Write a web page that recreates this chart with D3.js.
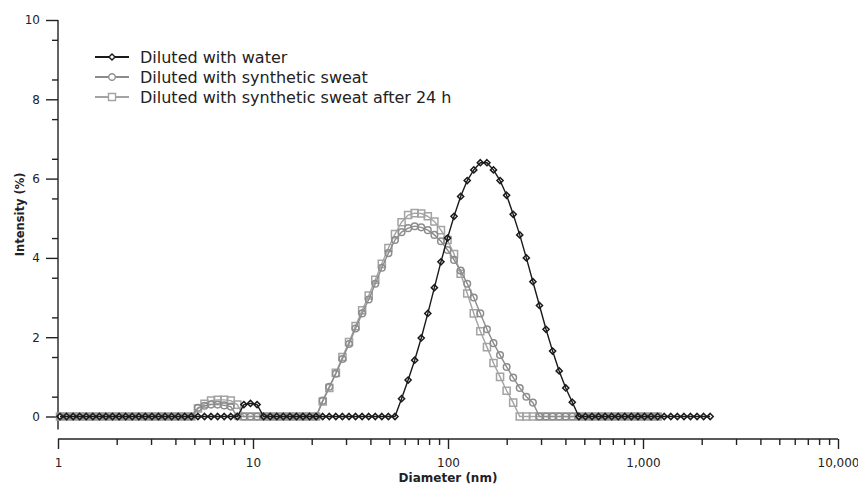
<!DOCTYPE html>
<html>
<head>
<meta charset="utf-8">
<script src="https://cdn.jsdelivr.net/npm/d3@7"></script>
<style>
	body { margin: 0; background: #fff; }
	text { font-family: "DejaVu Sans", Verdana, sans-serif; fill: #222; }
</style>
</head>
<body>
<svg class="chart"></svg>
<script>

// Size bins (nm), shared by the three measurements
var diameters = [
	1.024, 1.106, 1.196, 1.292, 1.396, 1.509, 1.631, 1.762, 1.904, 2.058,
	2.224, 2.403, 2.597, 2.806, 3.033, 3.277, 3.542, 3.827, 4.136, 4.469,
	4.830, 5.220, 5.641, 6.095, 6.587, 7.118, 7.692, 8.312, 8.982, 9.706,
	10.49, 11.34, 12.25, 13.24, 14.31, 15.46, 16.71, 18.05, 19.51, 21.08,
	22.78, 24.62, 26.60, 28.75, 31.07, 33.57, 36.28, 39.21, 42.37, 45.78,
	49.48, 53.47, 57.78, 62.44, 67.47, 72.91, 78.79, 85.15, 92.01, 99.43,
	107.4, 116.1, 125.5, 135.6, 146.5, 158.4, 171.1, 184.9, 199.8, 215.9,
	233.3, 252.2, 272.5, 294.5, 318.2, 343.9, 371.6, 401.6, 433.9, 468.9,
	506.7, 547.6, 591.8, 639.5, 691.0, 746.7, 806.9, 872.0, 942.3, 1018,
	1100, 1189, 1285, 1389, 1501, 1622, 1752, 1894, 2046, 2211
];

// Intensity (%) per bin
var water = [
	0, 0, 0, 0, 0, 0, 0, 0, 0, 0,
	0, 0, 0, 0, 0, 0, 0, 0, 0, 0,
	0, 0, 0, 0, 0, 0, 0, 0, 0.3, 0.33,
	0.3, 0, 0, 0, 0, 0, 0, 0, 0, 0,
	0, 0, 0, 0, 0, 0, 0, 0, 0, 0,
	0, 0, 0.45, 0.92, 1.42, 1.98, 2.6, 3.25, 3.9, 4.5,
	5.05, 5.55, 5.95, 6.22, 6.4, 6.4, 6.22, 5.95, 5.58, 5.1,
	4.58, 4.0, 3.4, 2.8, 2.2, 1.65, 1.15, 0.72, 0.36, 0,
	0, 0, 0, 0, 0, 0, 0, 0, 0, 0,
	0, 0, 0, 0, 0, 0, 0, 0, 0, 0
];

var sweat = [
	0, 0, 0, 0, 0, 0, 0, 0, 0, 0,
	0, 0, 0, 0, 0, 0, 0, 0, 0, 0,
	0, 0.22, 0.27, 0.3, 0.3, 0.28, 0.25, 0, 0, 0,
	0, 0, 0, 0, 0, 0, 0, 0, 0, 0,
	0.4, 0.75, 1.08, 1.45, 1.83, 2.22, 2.6, 2.95, 3.35, 3.75,
	4.12, 4.45, 4.65, 4.75, 4.8, 4.77, 4.7, 4.58, 4.42, 4.2,
	3.95, 3.68, 3.35, 3.0, 2.6, 2.2, 1.85, 1.55, 1.25, 0.98,
	0.72, 0.5, 0.35, 0, 0, 0, 0, 0, 0, 0,
	0, 0, 0, 0, 0, 0, 0, 0, 0, 0,
	0, 0
];

var sweat24 = [
	0, 0, 0, 0, 0, 0, 0, 0, 0, 0,
	0, 0, 0, 0, 0, 0, 0, 0, 0, 0,
	0, 0.2, 0.32, 0.4, 0.42, 0.42, 0.4, 0.3, 0, 0,
	0, 0, 0, 0, 0, 0, 0, 0, 0, 0,
	0.38, 0.72, 1.1, 1.5, 1.88, 2.28, 2.68, 3.05, 3.45, 3.85,
	4.25, 4.6, 4.9, 5.08, 5.13, 5.12, 5.05, 4.92, 4.7, 4.45,
	4.1, 3.6, 3.1, 2.6, 2.15, 1.75, 1.35, 1.0, 0.65, 0.35,
	0, 0, 0, 0, 0, 0, 0, 0, 0, 0,
	0, 0, 0, 0, 0, 0, 0, 0, 0, 0,
	0, 0
];

var seriesNames = [ "Diluted with water", "Diluted with synthetic sweat", "Diluted with synthetic sweat after 24 h" ];
var xTicks = [ 1, 10, 100, 1000, 10000 ];
var yTicks = [ 0, 2, 4, 6, 8, 10 ];

var svgWidth = 858,
	svgHeight = 484;

var chart = d3.select( ".chart" )
	.attr( "width", svgWidth )
	.attr( "height", svgHeight );

var x = d3.scaleLog().domain( [ 1, 10000 ] ).range( [ 58, 838 ] );
var y = d3.scaleLinear().domain( [ 0, 10 ] ).range( [ 416.5, 20 ] );
var xAxisY = 439;

// minor ticks: 2..9 in every decade, 0.5 steps on y
var xMinor = [];
for( var p = 0; p < 4; p++ ) {
	for( var m = 2; m < 10; m++ ) xMinor.push( m * Math.pow( 10, p ) );
}
var yMinor = d3.range( 0.5, 10, 1 );

// y axis
chart.append( "line" )
	.attr( "x1", x(1) ).attr( "x2", x(1) )
	.attr( "y1", y(10) ).attr( "y2", y(0) + 13 )
	.attr( "stroke", "#222" ).attr( "stroke-width", 1.4 );

chart.append( "g" )
	.attr( "transform", "translate(" + x(1) + ",0)" )
	.call( d3.axisLeft( y ).tickValues( yTicks ).tickSize( 12 ).tickPadding( 6 ) );
chart.append( "g" )
	.attr( "transform", "translate(" + x(1) + ",0)" )
	.call( d3.axisLeft( y ).tickValues( yMinor ).tickSize( 6 ).tickFormat( "" ) );

// x axis
chart.append( "g" )
	.attr( "transform", "translate(0," + xAxisY + ")" )
	.call( d3.axisBottom( x ).tickValues( xTicks ).tickSize( 10 ).tickPadding( 9 ).tickFormat( d3.format( "," ) ) );
chart.append( "g" )
	.attr( "transform", "translate(0," + xAxisY + ")" )
	.call( d3.axisBottom( x ).tickValues( xMinor ).tickSize( 6 ).tickFormat( "" ) );

chart.selectAll( ".domain" ).remove();
chart.append( "line" )
	.attr( "x1", x(1) ).attr( "x2", x(10000) )
	.attr( "y1", xAxisY ).attr( "y2", xAxisY )
	.attr( "stroke", "#222" ).attr( "stroke-width", 1.4 );

chart.selectAll( ".tick line" ).attr( "stroke", "#222" ).attr( "stroke-width", 1.4 );
chart.selectAll( ".tick text" )
	.style( "font-family", "'DejaVu Sans', Verdana, sans-serif" )
	.style( "font-size", "12px" )
	.attr( "fill", "#222" );

// axis titles
chart.append( "text" )
	.attr( "x", 448 ).attr( "y", 482 )
	.attr( "text-anchor", "middle" )
	.style( "font-size", "12px" ).style( "font-weight", "bold" )
	.text( "Diameter (nm)" );

chart.append( "text" )
	.attr( "transform", "translate(24," + y(5.1) + ") rotate(-90)" )
	.attr( "text-anchor", "middle" )
	.style( "font-size", "11.5px" ).style( "font-weight", "bold" )
	.text( "Intensity (%)" );

// series, drawn back to front
var series = [
	{ name: seriesNames[2], values: sweat24, color: "#a3a3a3", symbol: d3.symbolSquare, size: 50 },
	{ name: seriesNames[1], values: sweat, color: "#8c8c8c", symbol: d3.symbolCircle, size: 34 },
	{ name: seriesNames[0], values: water, color: "#1a1a1a", symbol: d3.symbolDiamond2, size: 24 }
];

var line = d3.line()
	.x( function(d) { return x( d.d ); } )
	.y( function(d) { return y( d.v ); } );

series.forEach( function( s ) {
	var pts = s.values.map( function( v, i ) { return { d: diameters[i], v: v }; } );

	chart.append( "path" )
		.datum( pts )
		.attr( "d", line )
		.attr( "fill", "none" )
		.attr( "stroke", s.color )
		.attr( "stroke-width", 1.4 );

	chart.append( "g" ).selectAll( "path" )
		.data( pts )
		.enter()
		.append( "path" )
		.attr( "d", d3.symbol().type( s.symbol ).size( s.size ) )
		.attr( "transform", function(d) { return "translate(" + x( d.d ) + "," + y( d.v ) + ")"; } )
		.attr( "fill", "none" )
		.attr( "stroke", s.color )
		.attr( "stroke-width", 1.5 );
} );

// legend
var legend = chart.append( "g" ).attr( "transform", "translate(95,57)" );
var legendItems = series.slice().reverse();

legendItems.forEach( function( s, i ) {
	var row = legend.append( "g" ).attr( "transform", "translate(0," + ( i * 20 ) + ")" );
	row.append( "line" )
		.attr( "x1", 0 ).attr( "x2", 34 )
		.attr( "stroke", s.color ).attr( "stroke-width", 1.8 );
	row.append( "path" )
		.attr( "d", d3.symbol().type( s.symbol ).size( s.size ) )
		.attr( "transform", "translate(17,0)" )
		.attr( "fill", "#fff" )
		.attr( "stroke", s.color )
		.attr( "stroke-width", 1.4 );
	row.append( "text" )
		.attr( "x", 45 ).attr( "y", 6 )
		.style( "font-size", "16px" )
		.text( s.name );
} );

</script>
</body>
</html>
